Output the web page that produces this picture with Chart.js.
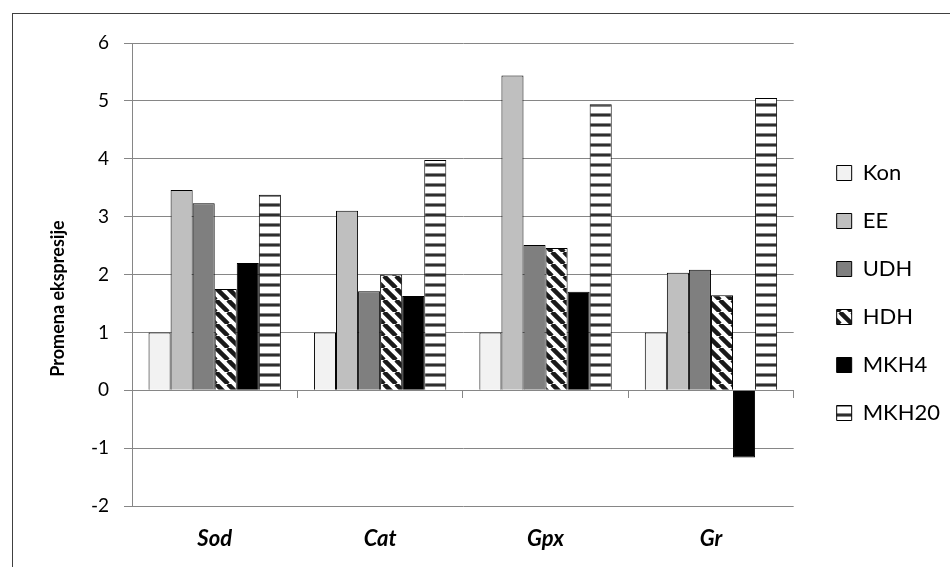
<!DOCTYPE html>
<html>
<head>
<meta charset="utf-8">
<script src="https://cdn.jsdelivr.net/npm/chart.js@4.4.1/dist/chart.umd.min.js"></script>
<style>
  html, body { margin: 0; padding: 0; background: #fff; overflow: hidden; }
  #frame { position: absolute; left: 12px; top: 13px; width: 1000px; height: 1000px; border: 1px solid #404040; }
  #chart { position: absolute; left: 0; top: 0; }
</style>
</head>
<body>
<div id="frame"></div>
<canvas id="chart" width="950" height="567"></canvas>
<script>
// data
const categories = ['Sod', 'Cat', 'Gpx', 'Gr'];
const seriesNames = ['Kon', 'EE', 'UDH', 'HDH', 'MKH4', 'MKH20'];
const kon = [1, 1, 1, 1];
const ee = [3.46, 3.1, 5.44, 2.03];
const udh = [3.23, 1.71, 2.51, 2.08];
const hdh = [1.75, 2.0, 2.46, 1.64];
const mkh4 = [2.2, 1.63, 1.7, -1.16];
const mkh20 = [3.38, 3.98, 4.94, 5.05];
const yMin = -2;
const yMax = 6;

const gridColor = '#868686';

function diagPattern() {
    const t = document.createElement('canvas');
    t.width = 12; t.height = 12;
    const c = t.getContext('2d');
    c.fillStyle = '#fff';
    c.fillRect(0, 0, 12, 12);
    c.strokeStyle = '#1a1a1a';
    c.lineWidth = 4.5;
    for (let a = -12; a <= 12; a += 12) {
        c.beginPath();
        c.moveTo(a, 0);
        c.lineTo(a + 12, 12);
        c.stroke();
    }
    return c.createPattern(t, 'repeat');
}

function hStripePattern() {
    const t = document.createElement('canvas');
    t.width = 10; t.height = 10;
    const c = t.getContext('2d');
    c.fillStyle = '#fff';
    c.fillRect(0, 0, 10, 10);
    c.fillStyle = '#8a8a8a';
    c.fillRect(0, 3, 10, 1);
    c.fillRect(0, 6, 10, 1);
    c.fillStyle = '#2e2e2e';
    c.fillRect(0, 4, 10, 2);
    return c.createPattern(t, 'repeat');
}

const ctx = document.getElementById('chart').getContext('2d');
const fills = ['#f2f2f2', '#bfbfbf', '#7f7f7f', diagPattern(), '#000000', hStripePattern()];
const values = [kon, ee, udh, hdh, mkh4, mkh20];

const datasets = seriesNames.map((name, i) => ({
    label: name,
    data: values[i],
    backgroundColor: fills[i],
    borderColor: '#000',
    borderWidth: 1,
    categoryPercentage: 0.8,
    barPercentage: 1.0
}));

new Chart(ctx, {
    type: 'bar',
    data: { labels: categories, datasets: datasets },
    options: {
        responsive: false,
        animation: false,
        layout: { padding: { top: 25, left: 47, right: 0, bottom: 6 } },
        plugins: {
            tooltip: { enabled: false },
            legend: {
                position: 'right',
                maxWidth: 140,
                labels: {
                    boxWidth: 15,
                    boxHeight: 15,
                    padding: 26,
                    color: '#000',
                    font: { family: 'Lato', size: 22 }
                }
            }
        },
        scales: {
            x: {
                grid: { display: false, drawTicks: false },
                border: { display: false },
                ticks: {
                    padding: 20,
                    color: '#000',
                    font: { family: 'Lato', size: 22, weight: 'bold', style: 'italic' }
                },
                afterFit: (s) => { s.height = 55; }
            },
            x2: {
                type: 'category',
                labels: categories,
                position: { y: 0 },
                offset: true,
                grid: { offset: true, drawOnChartArea: false, tickLength: 7, color: gridColor },
                border: { color: gridColor },
                ticks: { display: false }
            },
            xTop: {
                type: 'category',
                labels: categories,
                position: 'top',
                grid: { display: false },
                border: { display: false },
                ticks: { display: false },
                afterFit: (s) => { s.height = 18; }
            },
            y: {
                min: yMin,
                max: yMax,
                ticks: {
                    stepSize: 1,
                    padding: 15,
                    color: '#000',
                    font: { family: 'Lato', size: 19 }
                },
                grid: { color: gridColor, tickLength: 8 },
                border: { color: gridColor },
                title: {
                    display: true,
                    text: 'Promena ekspresije           ',
                    color: '#000',
                    padding: { top: 0, bottom: 0 },
                    font: { family: 'Lato', size: 18, weight: 'bold' }
                },
                afterFit: (s) => { s.width = 85; }
            },
            y2: {
                type: 'linear',
                position: 'right',
                grid: { display: false },
                border: { display: false },
                ticks: { display: false },
                afterFit: (s) => { s.width = 17; }
            }
        }
    }
});
</script>
</body>
</html>
